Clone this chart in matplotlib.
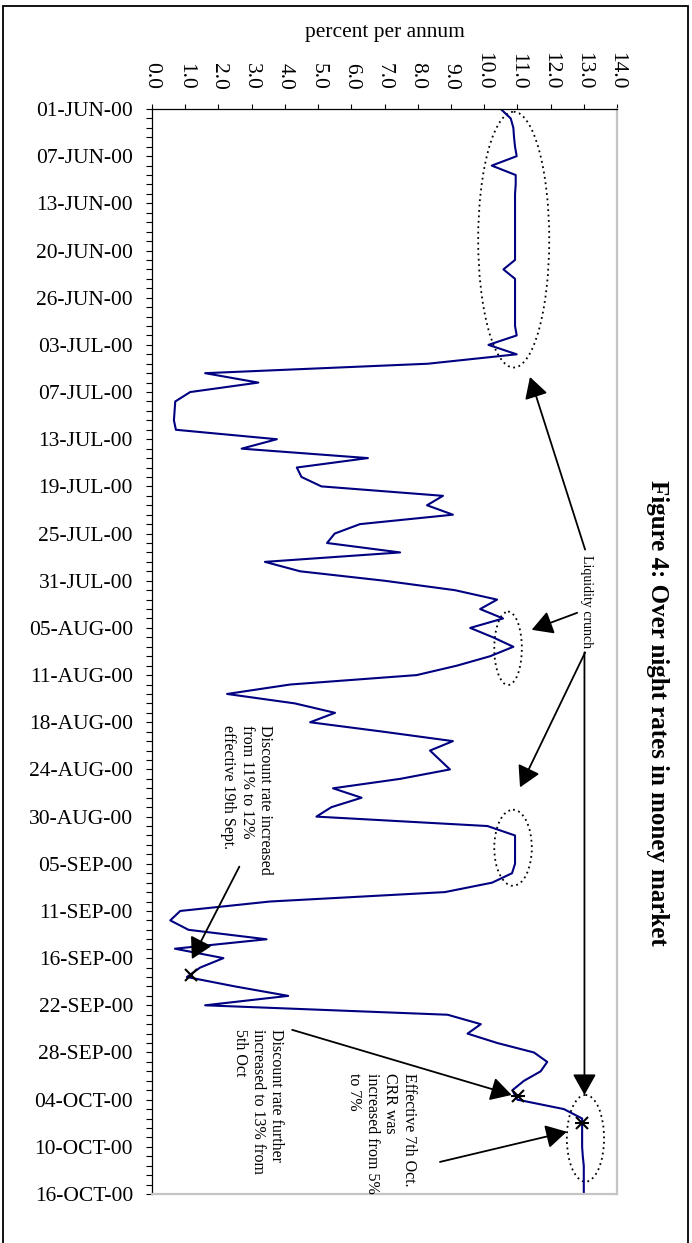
import matplotlib
matplotlib.use('Agg')
import matplotlib.pyplot as plt
from matplotlib.patches import Ellipse, Rectangle
import numpy as np

plt.rcParams['font.family'] = ['Liberation Serif', 'DejaVu Serif']

# ---------------- data ----------------
date_labels = ['01-JUN-00', '07-JUN-00', '13-JUN-00', '20-JUN-00', '26-JUN-00',
               '03-JUL-00', '07-JUL-00', '13-JUL-00', '19-JUL-00', '25-JUL-00',
               '31-JUL-00', '05-AUG-00', '11-AUG-00', '18-AUG-00', '24-AUG-00',
               '30-AUG-00', '05-SEP-00', '11-SEP-00', '16-SEP-00', '22-SEP-00',
               '28-SEP-00', '04-OCT-00', '10-OCT-00', '16-OCT-00']
label_every = 5

rates = [10.5, 10.8, 10.88, 10.9, 10.93, 10.98, 10.23, 10.95, 10.95,
         10.93, 10.93, 10.93, 10.93, 10.93, 10.93, 10.93, 10.93,
         10.58,
         10.93, 10.93, 10.93, 10.93, 10.93, 10.93,
         10.98, 10.13, 10.98, 8.3, 1.6, 3.2, 1.15, 0.7, 0.68, 0.66, 0.72,
         3.76, 2.7, 6.5, 4.36, 4.5, 5.1, 8.76, 8.28, 9.06, 6.26, 5.5, 5.27,
         7.47, 3.4, 4.46, 7.0, 9.12, 10.39, 9.88, 10.57, 9.58, 10.27, 10.88,
         10.18, 9.18, 7.97, 4.16, 2.26, 4.3, 5.51, 4.76, 6.96, 9.06, 8.37,
         8.67, 8.97, 7.47, 5.45, 6.31, 5.4, 4.95, 10.1,
         10.93, 10.93, 10.93, 10.93,
         10.84, 10.24, 8.82, 3.55, 0.85, 0.55, 1.1, 3.45, 0.69, 2.15, 1.45,
         1.05, 2.5, 4.1, 1.6, 8.9, 9.9, 9.5, 10.4, 11.5, 11.9, 11.7, 11.2,
         10.85, 11.0, 12.4, 12.95, 12.95, 12.95, 12.95, 12.97,
         13.0, 13.0, 13.0, 13.0]

rate_ticks = list(range(0, 15))

# marker points (rate, day index)
marks_x = [(1.17, 91.8)]
marks_star = [(11.03, 104.6), (12.94, 107.5)]

# ---------------- figure ----------------
W, H = 692, 1243
fig = plt.figure(figsize=(W / 100, H / 100), dpi=100)
ax = fig.add_axes([152 / W, 1 - 1194 / H, 465 / W, 1085 / H])

days = np.arange(len(rates))
ax.plot(rates, days, color='#000080', lw=1.5, solid_joinstyle='round')

ax.set_xlim(0, 14)
ax.set_ylim(len(rates) - 1, 0)

ax.xaxis.tick_top()
ax.xaxis.set_label_position('top')
ax.set_xticks(rate_ticks)
ax.set_xticklabels([f'{t:.1f}' for t in rate_ticks], rotation=-90)
ax.set_yticks(days[::label_every])
ax.set_yticklabels(date_labels)
ax.set_yticks(days, minor=True)
ax.tick_params(axis='y', which='both', direction='out', length=4.3, width=0.8,
               pad=9.4, labelsize=15.5)
ax.tick_params(axis='x', direction='out', length=3.6, width=0.8, pad=10.5,
               labelsize=15.5)
ax.set_xlabel('percent per annum', fontsize=15.5, labelpad=11)

for s in ['top', 'left']:
    ax.spines[s].set_color('black')
    ax.spines[s].set_linewidth(0.9)
for s in ['right', 'bottom']:
    ax.spines[s].set_color('#c4c4c4')
    ax.spines[s].set_linewidth(1.6)

# markers
for (xv, yv) in marks_x:
    ax.plot([xv], [yv], marker='x', color='black', ms=8, mew=1.5)
for (xv, yv) in marks_star:
    ax.plot([xv], [yv], marker='x', color='black', ms=8, mew=1.5)
    ax.plot([xv], [yv], marker='_', color='black', ms=10, mew=1.5)

# dotted ellipses
ell_style = dict(fill=False, edgecolor='black', lw=1.3, ls=(0, (1, 2)))
for (cx, cy, w, h) in [(10.89, 13.85, 2.14, 27.1),
                       (10.72, 57.16, 0.83, 7.77),
                       (10.87, 78.3, 1.13, 8.06),
                       (13.05, 109.1, 1.12, 9.19)]:
    ax.add_patch(Ellipse((cx, cy), w, h, **ell_style))

# arrows
aprops = dict(arrowstyle='-|>,head_length=0.8,head_width=0.45', mutation_scale=16,
              lw=1.3, color='black', shrinkA=0, shrinkB=0)
arrows = [((13.04, 46.7), (11.38, 28.4)),
          ((12.80, 53.4), (11.43, 55.2)),
          ((13.04, 57.6), (11.08, 71.9)),
          ((13.02, 57.6), (13.02, 104.5)),
          ((2.63, 80.3), (1.20, 90.1)),
          ((4.22, 97.6), (10.83, 104.5)),
          ((8.67, 111.6), (12.49, 108.4))]
for start, tip in arrows:
    ax.annotate('', xy=tip, xytext=start, arrowprops=aprops)

# annotation texts
ax.text(13.07, 52.2, 'Liquidity crunch', rotation=-90, fontsize=10,
        ha='center', va='center')
ax.text(2.85, 65.3, 'Discount rate increased\nfrom 11% to 12%\neffective 19th Sept.',
        rotation=-90, fontsize=11.5, ha='center', va='top', multialignment='left')
ax.text(3.19, 97.55, 'Discount rate further\nincreased to 13% from\n5th Oct',
        rotation=-90, fontsize=11.5, ha='center', va='top', multialignment='left')
ax.text(6.90, 102.2, 'Effective 7th Oct.\nCRR was\nincreased from 5%\nto 7%',
        rotation=-90, fontsize=11.5, ha='center', va='top', multialignment='left')

# title
fig.text(658 / W, 1 - 713 / H, 'Figure 4: Over night rates in money market',
         rotation=-90, fontsize=18, fontweight='bold', ha='center', va='center')

# outer border
fig.add_artist(Rectangle((3 / W, -0.01), 685 / W, 1.01 - 6 / H,
                         transform=fig.transFigure, fill=False,
                         edgecolor='black', lw=1.3))

fig.savefig('out.png', dpi=100)
